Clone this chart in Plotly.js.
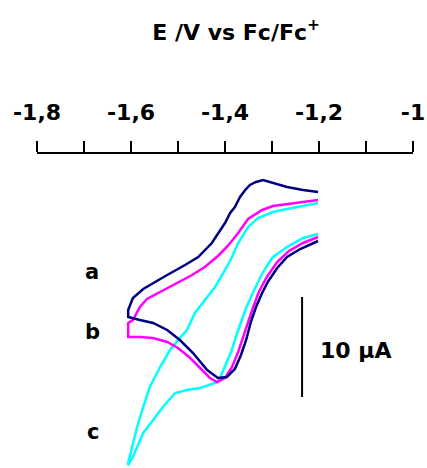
<!DOCTYPE html>
<html>
<head>
<meta charset="utf-8">
<script src="https://cdn.plot.ly/plotly-3.0.1.min.js"></script>
<style>html,body{margin:0;padding:0;background:#fff;}#chart{width:427px;height:468px;}</style>
</head>
<body>
<div id="chart"></div>
<script>
// Potential (V vs Fc/Fc+) and current (µA, arbitrary offset)
const aE = [-1.202,-1.240,-1.268,-1.289,-1.309,-1.321,-1.334,-1.345,-1.355,-1.366,-1.379,-1.396,-1.415,
  -1.438,-1.468,-1.496,-1.523,-1.553,-1.581,-1.606,
  -1.606,-1.596,-1.574,-1.553,-1.523,-1.485,-1.457,-1.428,-1.411,-1.400,-1.389,-1.379,-1.368,-1.357,-1.347,-1.334,-1.319,-1.298,-1.268,-1.234,-1.202];
const aI = [15.9,15.1,14.3,13.2,11.8,10.7,9.3,7.8,6.0,4.5,3.1,2.3,2.2,
  3.0,4.7,6.0,7.0,7.7,8.0,8.3,
  9.0,10.2,11.1,11.7,12.5,13.5,14.3,15.7,17.0,17.7,18.7,19.3,20.3,21.0,21.5,21.8,22.0,21.7,21.3,21.0,20.8];

const bE = [-1.202,-1.234,-1.264,-1.289,-1.311,-1.328,-1.340,-1.351,-1.362,-1.372,-1.385,-1.400,-1.417,
  -1.432,-1.453,-1.474,-1.500,-1.523,-1.553,-1.581,-1.606,
  -1.606,-1.596,-1.581,-1.566,-1.538,-1.511,-1.485,-1.470,-1.443,-1.415,-1.394,-1.372,-1.351,-1.321,-1.298,-1.268,-1.234,-1.202];
const bI = [16.3,15.7,14.9,13.8,12.3,10.8,9.3,7.8,6.3,4.8,3.3,2.2,1.8,
  2.2,3.2,4.2,5.2,5.8,6.2,6.3,6.3,
  7.7,8.0,9.3,10.1,10.8,11.5,12.2,12.5,13.3,14.4,15.4,16.7,18.1,19.0,19.4,19.6,19.8,20.0];

const cE = [-1.202,-1.234,-1.268,-1.298,-1.319,-1.340,-1.355,-1.366,-1.377,-1.387,-1.398,-1.409,-1.415,
  -1.432,-1.453,-1.481,-1.506,-1.532,-1.553,-1.574,-1.596,-1.606,
  -1.606,-1.598,-1.587,-1.574,-1.560,-1.538,-1.517,-1.500,-1.481,-1.464,-1.443,-1.421,-1.400,-1.385,-1.372,-1.351,-1.330,-1.298,-1.268,-1.234,-1.202];
const cI = [16.6,16.2,15.3,14.3,12.8,10.8,9.2,7.8,6.3,4.8,3.5,2.4,1.8,
  1.5,1.2,1.0,0.7,-0.7,-2.0,-3.3,-5.7,-6.5,
  -6.3,-4.7,-2.7,-0.7,1.3,3.3,5.0,6.0,7.0,8.7,10.0,11.3,13.0,14.3,15.7,17.3,18.2,18.8,19.1,19.4,19.7];

// scale bar: 10 µA
const barE = [-1.236, -1.236];
const barI = [10.3, 0.3];
const barLabel = '10 µA';

const tickVals = [-1.8,-1.6,-1.4,-1.2,-1.0];
const tickText = ['-1,8','-1,6','-1,4','-1,2','-1'];
const curveLabels = ['a','b','c'];
const labelE = [-1.683,-1.681,-1.681];
const labelI = [12.8,6.8,-3.2];

const FONT = 'DejaVu Sans, Arial, sans-serif';
const line = (x, y, color) => ({x, y, type:'scatter', mode:'lines', line:{color, width:2.5}, hoverinfo:'skip', showlegend:false});

const data = [
  line(cE, cI, '#00ffff'),
  line(bE, bI, '#ff00ff'),
  line(aE, aI, '#000080'),
  {x: barE, y: barI, type:'scatter', mode:'lines', line:{color:'#000', width:2}, hoverinfo:'skip', showlegend:false}
];

const annotations = curveLabels.map((t,i) => ({
  x: labelE[i], y: labelI[i], xref:'x', yref:'y', text:'<b>'+t+'</b>', showarrow:false,
  font:{family:FONT, size:21, color:'#000'}, xanchor:'center', yanchor:'middle'
}));
annotations.push({x:-1.202, y:5.0, xref:'x', yref:'y', text:'<b>'+barLabel+'</b>', showarrow:false,
  font:{family:FONT, size:22, color:'#000'}, xanchor:'left', yanchor:'middle'});

const layout = {
  width:427, height:468,
  margin:{l:37, r:14, t:154, b:0, pad:0},
  paper_bgcolor:'#fff', plot_bgcolor:'#fff',
  title:{text:'<b>E /V vs Fc/Fc<sup>+</sup></b>', font:{family:FONT, size:22, color:'#000'},
    xref:'container', yref:'container', x:0.553, y:1-32/468, xanchor:'center', yanchor:'middle'},
  xaxis:{range:[-1.8,-1.0], side:'top', showline:true, linecolor:'#000', linewidth:2.5,
    ticks:'outside', ticklen:11, tickwidth:2.5, tickcolor:'#000',
    tickmode:'array', tickvals:tickVals, ticktext:tickText,
    minor:{dtick:0.1, tick0:-1.8, ticks:'outside', ticklen:11, tickwidth:2.5, tickcolor:'#000', showgrid:false},
    tickfont:{family:FONT, size:22, color:'#000', weight:'bold'},
    ticklabelstandoff:12,
    showgrid:false, zeroline:false, fixedrange:true},
  yaxis:{range:[-6.8,24.6], visible:false, showgrid:false, zeroline:false, fixedrange:true},
  annotations,
  showlegend:false
};

Plotly.newPlot('chart', data, layout, {staticPlot:true, displayModeBar:false});
</script>
</body>
</html>
